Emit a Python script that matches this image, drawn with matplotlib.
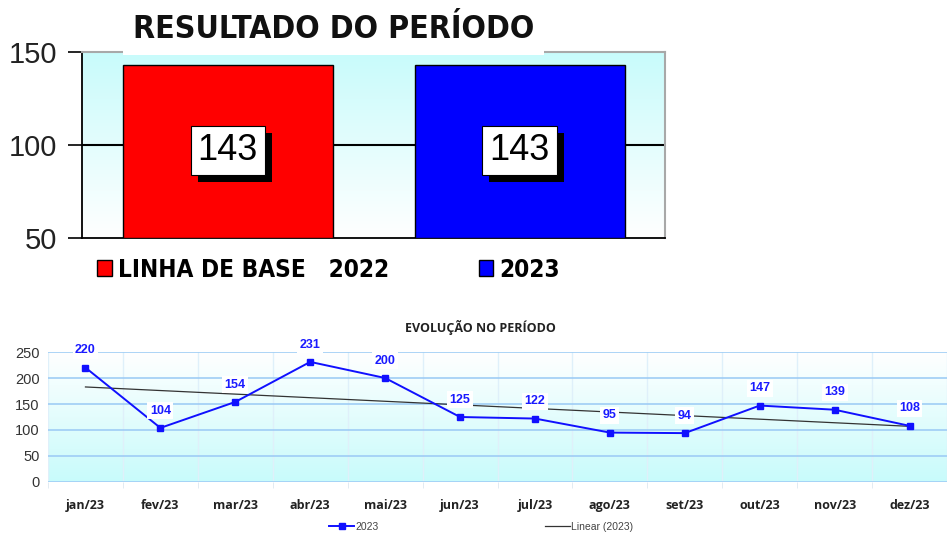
import numpy as np
import matplotlib
matplotlib.use("Agg")
from matplotlib import pyplot as plt
from matplotlib.colors import LinearSegmentedColormap
from matplotlib.lines import Line2D
from matplotlib.patches import Patch, Rectangle
from matplotlib.transforms import IdentityTransform

# Data
period_labels = ["LINHA DE BASE   2022", "2023"]
period_values = [143, 143]
period_colors = ["#ff0000", "#0000ff"]

months = ["jan/23", "fev/23", "mar/23", "abr/23", "mai/23", "jun/23",
          "jul/23", "ago/23", "set/23", "out/23", "nov/23", "dez/23"]
monthly_values = [220, 104, 154, 231, 200, 125, 122, 95, 94, 147, 139, 108]

arial = "Liberation Sans"

fig = plt.figure(figsize=(9.47, 5.34), dpi=100)


def gradient(ax, top, bottom):
    cmap = LinearSegmentedColormap.from_list("bg", [bottom, top])
    ax.imshow(np.linspace(0, 1, 256).reshape(-1, 1), cmap=cmap, origin="lower",
              extent=[0, 1, 0, 1], transform=ax.transAxes, aspect="auto", zorder=0)


# ---- Top chart: RESULTADO DO PERIODO
ax1 = fig.add_axes([0.0866, 0.5543, 0.616, 0.3483])
gradient(ax1, "#c8fbfb", "#ffffff")
x = np.arange(len(period_values))
ax1.bar(x, [v - 50 for v in period_values], bottom=50, width=0.72,
        color=period_colors, edgecolor="black", linewidth=1, zorder=3)
ax1.axhline(100, color="black", lw=1.5, zorder=2)
ax1.set_xlim(-0.5, 1.5)
ax1.set_ylim(50, 150)
ax1.set_yticks([50, 100, 150])
ax1.set_yticklabels(["50", "100", "150"], fontsize=21, family=arial, color="#222222")
ax1.tick_params(axis="y", length=10, width=1.2, pad=8)
ax1.set_xticks([])
for s in ["left", "bottom"]:
    ax1.spines[s].set_color("black")
    ax1.spines[s].set_linewidth(1.3)
for s in ["top", "right"]:
    ax1.spines[s].set_color("#a8a8a8")
    ax1.spines[s].set_linewidth(1.5)

value_texts = []
for xi, v in zip(x, period_values):
    t = ax1.annotate(str(v), (xi, 97), ha="center", va="center", fontsize=26,
                     family=arial, fontweight="medium", color="black",
                     bbox=dict(boxstyle="square,pad=0.2", fc="white", ec="black", lw=0.8),
                     zorder=6)
    value_texts.append(t)

fig.text(0.352, 0.944, "RESULTADO DO PERÍODO", ha="center", va="center",
         fontsize=23, fontweight="bold", family="DejaVu Sans", fontstretch="condensed",
         color="#111111", bbox=dict(boxstyle="square,pad=0.3", fc="white", ec="none"))

handles1 = [Patch(fc=c, ec="black", lw=1) for c in period_colors]
fig.legend(handles1, period_labels, loc="center left", bbox_to_anchor=(0.1025, 0.495),
           ncol=2, frameon=False, borderpad=0, borderaxespad=0,
           prop=dict(family="DejaVu Sans", weight="bold", size=17.5, stretch="condensed"),
           handlelength=0.6, handleheight=0.6, handletextpad=0.25, columnspacing=3.7)

# ---- Bottom chart: EVOLUCAO NO PERIODO
ax2 = fig.add_axes([0.0507, 0.0974, 0.9493, 0.2434])
gradient(ax2, "#ffffff", "#c8fbfb")
xm = np.arange(len(months))
ax2.set_xlim(-0.5, 11.37)
ax2.set_ylim(0, 250)
ax2.set_yticks(range(0, 251, 50))
ax2.set_yticklabels([str(v) for v in range(0, 251, 50)], fontsize=10.5,
                    family=arial, color="#333333")
ax2.tick_params(axis="y", length=0, pad=6)
ax2.set_xticks(xm)
ax2.set_xticklabels(months, fontsize=9, fontweight="bold", family="Open Sans",
                    color="#222222")
ax2.tick_params(axis="x", length=0, pad=12)
ax2.set_xticks(np.arange(-0.5, 12, 1), minor=True)
ax2.tick_params(axis="x", which="minor", length=4, color="#dde8f0")
ax2.grid(axis="y", color="#9fcdf5", lw=1.2, zorder=1)
ax2.grid(axis="x", which="minor", color="#dff0fa", lw=1, zorder=1)
for s in ax2.spines.values():
    s.set_visible(False)

ax2.plot(xm, monthly_values, color="#1010ff", lw=1.4, marker="s", ms=5,
         zorder=4, label="2023")
slope, intercept = np.polyfit(xm, monthly_values, 1)
ax2.plot(xm, slope * xm + intercept, color="#333333", lw=0.9, zorder=3,
         label="Linear (2023)")
for xi, v in zip(xm, monthly_values):
    ax2.annotate(str(v), (xi, v), xytext=(0, 12.5), textcoords="offset points",
                 ha="center", va="center", fontsize=9, fontweight="bold",
                 family=arial, color="#1a1aff", zorder=6,
                 bbox=dict(boxstyle="square,pad=0.2", fc="white", ec="none"))

fig.text(0.507, 0.387, "EVOLUÇÃO NO PERÍODO", ha="center", va="center",
         fontsize=9, fontweight="bold", family="Open Sans", color="#222222")

handles2 = [Line2D([], [], color="#1010ff", lw=1.4, marker="s", ms=5),
            Line2D([], [], color="#333333", lw=0.9)]
fig.legend(handles2, ["2023", "Linear (2023)"], loc="center", bbox_to_anchor=(0.508, 0.014),
           ncol=2, frameon=False, prop=dict(family=arial, size=7.5),
           handlelength=2.4, handletextpad=0.1, columnspacing=16, labelcolor="#444444")

# black drop shadows behind the value boxes
fig.canvas.draw()
renderer = fig.canvas.get_renderer()
for t in value_texts:
    bb = t.get_bbox_patch().get_window_extent(renderer)
    shadow = Rectangle((bb.x0 + 7, bb.y0 - 7), bb.width, bb.height,
                       fc="black", ec="none", zorder=5)
    ax1.add_patch(shadow)
    shadow.set_transform(IdentityTransform())
    shadow.set_clip_on(False)

fig.savefig("out.png", dpi=100)
